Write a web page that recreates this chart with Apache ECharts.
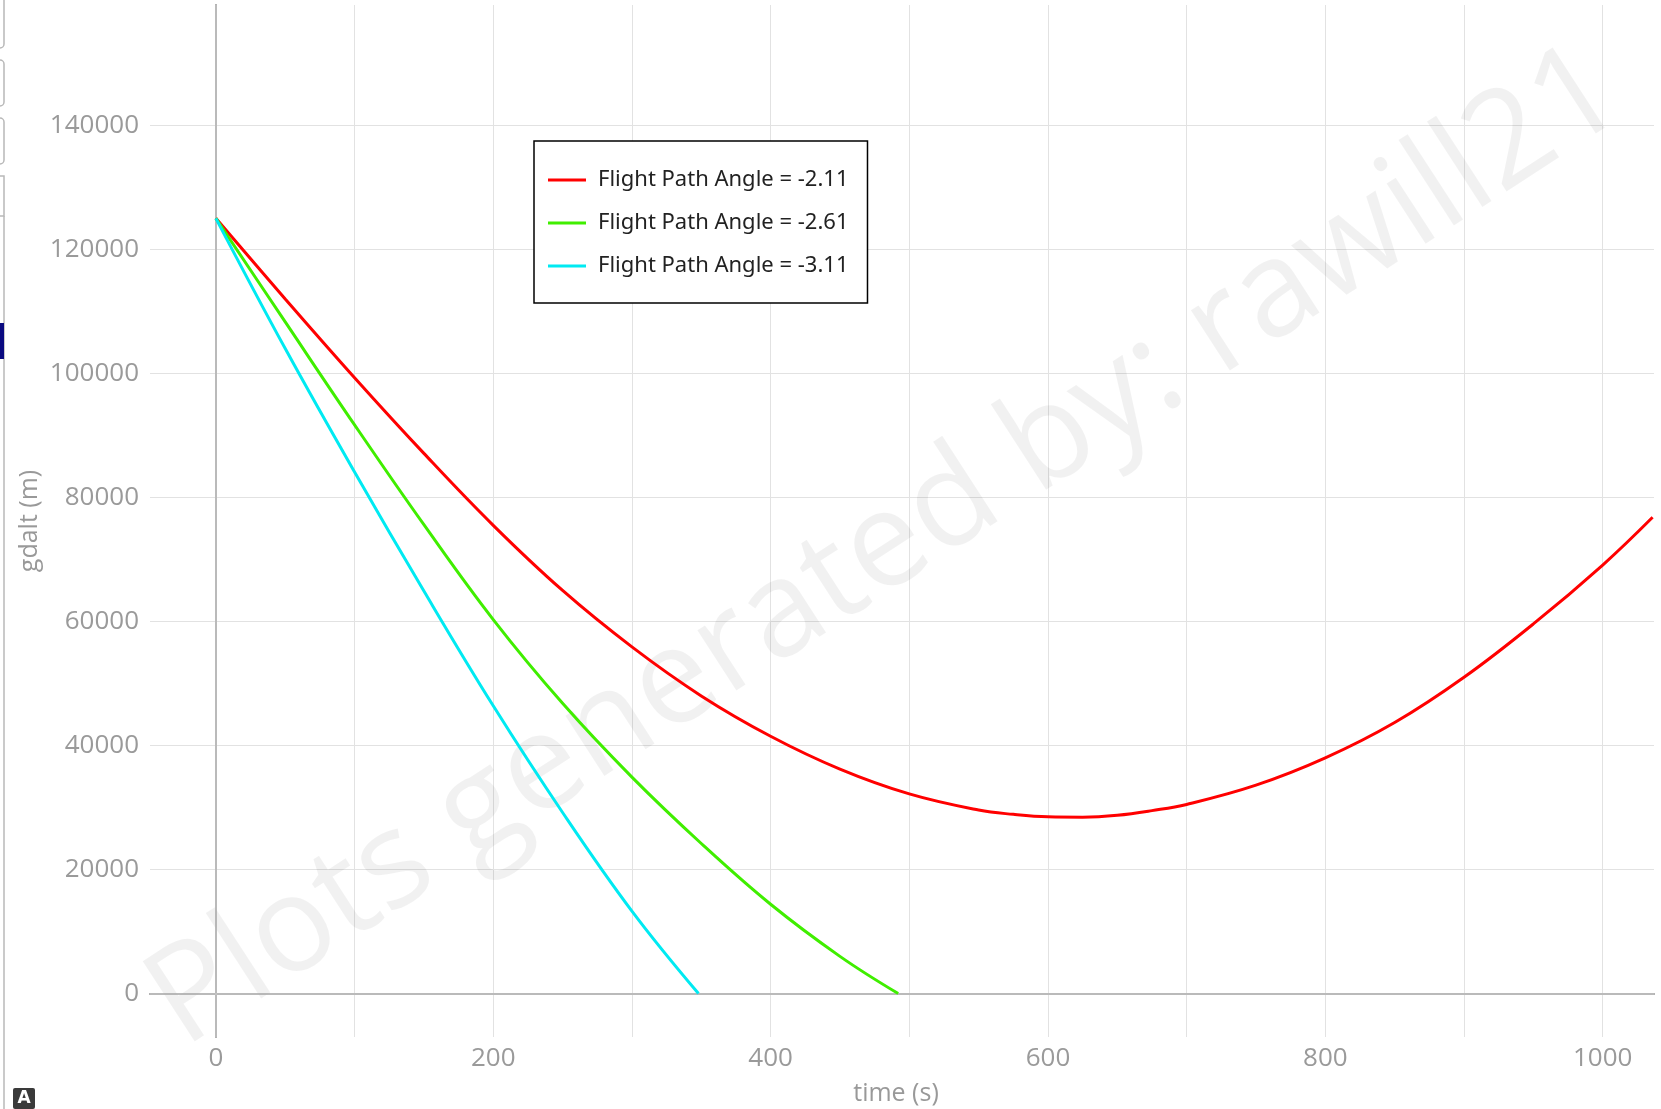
<!DOCTYPE html>
<html>
<head>
<meta charset="utf-8">
<script src="https://cdn.jsdelivr.net/npm/echarts@6/dist/echarts.min.js"></script>
<style>
html,body{margin:0;padding:0;background:#fff;}
#chart{width:1661px;height:1109px;}
</style>
</head>
<body>
<div id="chart"></div>
<script>
// ---- data ----
const seriesNames = ['Flight Path Angle = -2.11', 'Flight Path Angle = -2.61', 'Flight Path Angle = -3.11'];
const seriesColors = ['#ff0000', '#40ee00', '#00eaf2'];

const timeRed = [0, 50, 100, 150, 200, 250, 300, 350, 400, 450, 500, 550, 575, 600, 625, 650, 675, 700, 750, 800, 850, 900, 950, 1000, 1036];
const altRed  = [125000, 112000, 99300, 87100, 75500, 65000, 55900, 48000, 41500, 36200, 32200, 29600, 28900, 28500, 28450, 28750, 29500, 30500, 33600, 38000, 43700, 51000, 59600, 69100, 76800];

const timeGreen = [0, 50, 100, 150, 200, 250, 300, 350, 400, 450, 492];
const altGreen  = [125000, 108300, 91700, 75600, 60300, 46800, 34900, 24200, 14400, 6000, 0];

const timeCyan = [0, 50, 100, 150, 200, 250, 300, 348];
const altCyan  = [125000, 104000, 84100, 64900, 46400, 29200, 13300, 0];

const xGridTicks = [0, 100, 200, 300, 400, 500, 600, 700, 800, 900, 1000];
const xLabelTicks = [0, 200, 400, 600, 800, 1000];
const yTicks = [0, 20000, 40000, 60000, 80000, 100000, 120000, 140000];

const xLabel = 'time (s)';
const yLabel = 'gdalt (m)';
const watermark = 'Plots generated by: rawill21';

function pairs(xs, ys) { return xs.map((x, i) => [x, ys[i]]); }
const seriesData = [pairs(timeRed, altRed), pairs(timeGreen, altGreen), pairs(timeCyan, altCyan)];

const chart = echarts.init(document.getElementById('chart'), null, {renderer: 'canvas'});

const tickFont = '"Open Sans", "Noto Sans", sans-serif';

const series = seriesNames.map((name, i) => ({
  name: name,
  type: 'line',
  data: seriesData[i],
  smooth: 0.4,
  symbol: 'none',
  lineStyle: {color: seriesColors[i], width: 3},
  itemStyle: {color: seriesColors[i]},
  z: 5
}));

// zero lines (slightly darker)
series.push({
  type: 'line',
  data: [],
  silent: true,
  markLine: {
    silent: true,
    symbol: 'none',
    label: {show: false},
    lineStyle: {color: '#c4c4c4', width: 1.5, type: 'solid'},
    data: [{xAxis: 0}, {yAxis: 0}]
  },
  z: 1
});

const option = {
  backgroundColor: '#ffffff',
  animation: false,
  grid: {left: 150, right: 7, top: 5, bottom: 72, containLabel: false, outerBoundsMode: 'none'},
  xAxis: {
    type: 'value',
    min: -47.5,
    max: 1037,
    name: xLabel,
    nameLocation: 'middle',
    nameGap: 44,
    nameTextStyle: {color: '#999999', fontSize: 25, fontFamily: tickFont, padding: [0, 12, 0, 0]},
    axisLine: {show: true, lineStyle: {color: '#9a9a9a', width: 2}},
    axisTick: {show: false, customValues: xGridTicks},
    axisLabel: {
      color: '#9a9a9a', fontSize: 26, fontFamily: tickFont, margin: 9,
      customValues: xLabelTicks,
      formatter: v => String(v)
    },
    splitLine: {show: true, lineStyle: {color: '#e2e2e2', width: 1}}
  },
  yAxis: {
    type: 'value',
    min: -7000,
    max: 159400,
    name: yLabel,
    nameLocation: 'middle',
    nameGap: 108,
    nameMoveOverlap: false,
    nameTextStyle: {color: '#999999', fontSize: 25, fontFamily: tickFont},
    axisLine: {show: true, lineStyle: {color: '#9a9a9a', width: 2}},
    axisTick: {show: false, customValues: yTicks},
    axisLabel: {
      color: '#9a9a9a', fontSize: 26, fontFamily: tickFont, margin: 11,
      customValues: yTicks,
      formatter: v => String(v)
    },
    splitLine: {show: true, lineStyle: {color: '#e2e2e2', width: 1}}
  },
  legend: {
    show: true,
    data: seriesNames.map(n => ({name: n, icon: 'rect'})),
    orient: 'vertical',
    left: 534,
    top: 141,
    padding: [28, 19, 26, 14],
    itemGap: 21,
    itemWidth: 38,
    itemHeight: 3,
    backgroundColor: '#ffffff',
    borderColor: '#000000',
    borderWidth: 1.5,
    borderRadius: 0,
    textStyle: {color: '#222222', fontSize: 22, lineHeight: 22, fontFamily: '"Noto Sans", "Open Sans", sans-serif', padding: [0, 0, 0, 7]},
    selectedMode: false
  },
  graphic: [
    {
      type: 'text',
      z: 1,
      silent: true,
      x: 886,
      y: 548,
      rotation: 0.575,
      style: {
        text: watermark,
        fill: 'rgba(0,0,0,0.055)',
        font: '134px "Open Sans", sans-serif',
        textAlign: 'center',
        textVerticalAlign: 'middle'
      }
    },
    // left-edge UI artefacts visible in the screenshot
    {type: 'rect', silent: true, shape: {x: -6, y: -4, width: 10, height: 52, r: 4}, style: {fill: '#fff', stroke: '#b8b8b8', lineWidth: 1.5}},
    {type: 'rect', silent: true, shape: {x: -6, y: 60, width: 10, height: 46, r: 4}, style: {fill: '#fff', stroke: '#b8b8b8', lineWidth: 1.5}},
    {type: 'rect', silent: true, shape: {x: -6, y: 118, width: 10, height: 46, r: 4}, style: {fill: '#fff', stroke: '#b8b8b8', lineWidth: 1.5}},
    {type: 'rect', silent: true, shape: {x: -6, y: 176, width: 10, height: 40, r: 0}, style: {fill: '#fff', stroke: '#b8b8b8', lineWidth: 1.5}},
    {type: 'line', silent: true, shape: {x1: 4, y1: 216, x2: 4, y2: 1109}, style: {stroke: '#b8b8b8', lineWidth: 1.5}},
    {type: 'rect', silent: true, shape: {x: 0, y: 323, width: 4, height: 36}, style: {fill: '#0a0a80'}},
    {type: 'rect', silent: true, shape: {x: 13, y: 1088, width: 22, height: 21, r: 2}, style: {fill: '#3a3a3a'}},
    {type: 'text', silent: true, x: 24, y: 1099, style: {text: 'A', fill: '#ffffff', font: 'bold 17px "DejaVu Sans", sans-serif', textAlign: 'center', textVerticalAlign: 'middle'}}
  ],
  series: series
};

chart.setOption(option);
</script>
</body>
</html>
